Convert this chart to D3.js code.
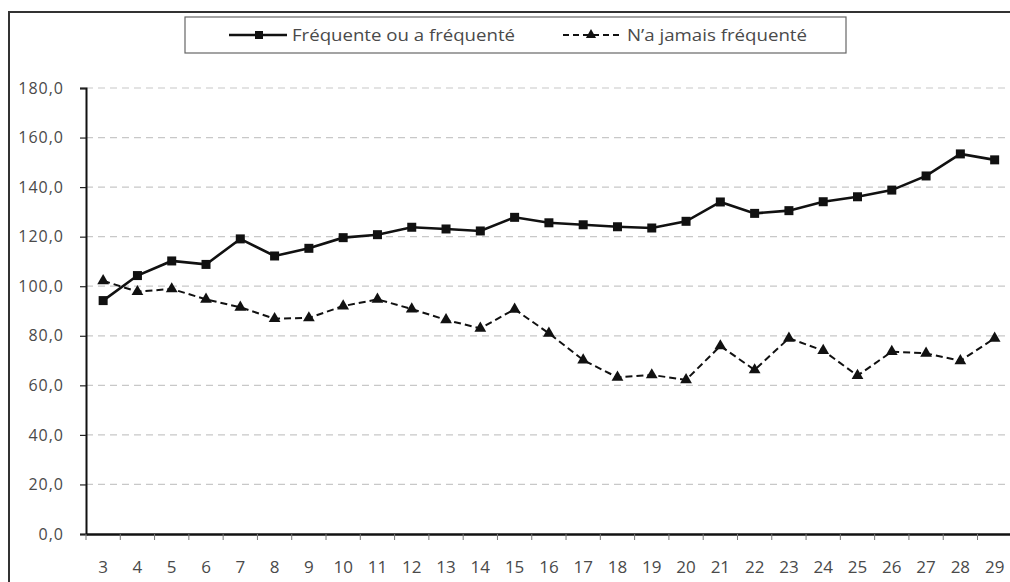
<!DOCTYPE html>
<html lang="fr">
<head>
<meta charset="utf-8">
<title>Fréquente ou a fréquenté</title>
<script src="https://d3js.org/d3.v7.min.js"></script>
<style>
  body { margin: 0; background: #fff; }
  text { font-family: "Open Sans", "DejaVu Sans", sans-serif; fill: #4a4a4a; }
</style>
</head>
<body>
<svg id="chart" width="1010" height="582"></svg>
<script>
// categories (x axis)
var ages = ["3","4","5","6","7","8","9","10","11","12","13","14","15","16",
            "17","18","19","20","21","22","23","24","25","26","27","28","29"];
// series values
var frequente = [94.2, 104.3, 110.2, 108.8, 119.1, 112.2, 115.3, 119.6, 120.8, 123.8,
                 123.1, 122.3, 127.8, 125.6, 124.8, 124.0, 123.5, 126.2, 134.0, 129.4,
                 130.5, 134.1, 136.1, 138.8, 144.5, 153.4, 151.0];
var jamais = [102.2, 97.8, 98.9, 94.7, 91.5, 86.9, 87.2, 92.0, 94.7, 90.8,
              86.4, 83.0, 90.7, 81.0, 70.2, 63.2, 64.2, 62.2, 75.9, 66.2,
              79.0, 74.0, 63.9, 73.6, 72.9, 69.9, 79.0];
// y ticks
var yTicks = [0, 20, 40, 60, 80, 100, 120, 140, 160, 180];
var seriesNames = ["Fréquente ou a fréquenté", "N\u2019a jamais fréquenté"];

var svg = d3.select("#chart");

// outer frame (runs off the right and bottom edges)
svg.append("rect")
  .attr("x", 9).attr("y", 12)
  .attr("width", 1020).attr("height", 600)
  .attr("fill", "none").attr("stroke", "#333").attr("stroke-width", 2);

var x = d3.scaleBand().domain(ages).range([86, 1011.8]);
var y = d3.scaleLinear().domain([0, 180]).range([534, 88]);

// gridlines
svg.append("g")
  .selectAll("line")
  .data(yTicks.filter(function(d){ return d > 0; }))
  .enter().append("line")
    .attr("x1", 86).attr("x2", 1010)
    .attr("y1", function(d){ return y(d); })
    .attr("y2", function(d){ return y(d); })
    .attr("stroke", "#c8c8c8")
    .attr("stroke-width", 1.2)
    .attr("stroke-dasharray", "7,5");

// y axis
var yAxis = svg.append("g")
  .attr("transform", "translate(86,0)")
  .call(d3.axisLeft(y).tickValues(yTicks).tickSize(6).tickPadding(16)
    .tickFormat(function(d){ return d3.format(".1f")(d).replace(".", ","); }));
yAxis.select(".domain").attr("stroke", "#111").attr("stroke-width", 2);
yAxis.selectAll(".tick line").attr("stroke", "#222").attr("stroke-width", 1.2);
yAxis.selectAll(".tick text")
  .style("font-size", "16px").attr("fill", "#555").attr("letter-spacing", "1");

// x axis
var xAxis = svg.append("g")
  .attr("transform", "translate(0,534)")
  .call(d3.axisBottom(x).tickSize(0).tickPadding(27));
xAxis.select(".domain").attr("stroke", "#111").attr("stroke-width", 2.5);
xAxis.selectAll(".tick text")
  .style("font-size", "17px").attr("fill", "#555");
// category separators
xAxis.append("g")
  .selectAll("line")
  .data(ages)
  .enter().append("line")
    .attr("x1", function(d){ return x(d); })
    .attr("x2", function(d){ return x(d); })
    .attr("y1", 0).attr("y2", 6)
    .attr("stroke", "#777").attr("stroke-width", 1);

var cx = function(d, i){ return x(ages[i]) + x.bandwidth() / 2; };

// series: N'a jamais fréquenté (dashed, triangles)
svg.append("path")
  .datum(jamais)
  .attr("fill", "none").attr("stroke", "#111")
  .attr("stroke-width", 2).attr("stroke-dasharray", "7,4")
  .attr("d", d3.line().x(cx).y(function(d){ return y(d); }));
svg.append("g").selectAll("path")
  .data(jamais)
  .enter().append("path")
    .attr("transform", function(d, i){ return "translate(" + cx(d, i) + "," + y(d) + ")"; })
    .attr("d", d3.symbol().type(d3.symbolTriangle).size(60))
    .attr("fill", "#111");

// series: Fréquente ou a fréquenté (solid, squares)
svg.append("path")
  .datum(frequente)
  .attr("fill", "none").attr("stroke", "#111").attr("stroke-width", 2.6)
  .attr("d", d3.line().x(cx).y(function(d){ return y(d); }));
svg.append("g").selectAll("rect")
  .data(frequente)
  .enter().append("rect")
    .attr("x", function(d, i){ return cx(d, i) - 4.5; })
    .attr("y", function(d){ return y(d) - 4.5; })
    .attr("width", 9).attr("height", 9)
    .attr("fill", "#111");

// legend
var legend = svg.append("g");
legend.append("rect")
  .attr("x", 185).attr("y", 17).attr("width", 661).attr("height", 36)
  .attr("fill", "#fff").attr("stroke", "#666").attr("stroke-width", 1.2);

legend.append("line")
  .attr("x1", 229).attr("x2", 287).attr("y1", 35).attr("y2", 35)
  .attr("stroke", "#111").attr("stroke-width", 2.6);
legend.append("rect")
  .attr("x", 255).attr("y", 31).attr("width", 8).attr("height", 8).attr("fill", "#111");
legend.append("text")
  .attr("x", 292).attr("y", 40.5)
  .attr("textLength", 223).attr("lengthAdjust", "spacingAndGlyphs")
  .attr("fill", "#555")
  .style("font-size", "16px")
  .text(seriesNames[0]);

legend.append("line")
  .attr("x1", 563).attr("x2", 623).attr("y1", 35).attr("y2", 35)
  .attr("stroke", "#111").attr("stroke-width", 2).attr("stroke-dasharray", "6,4");
legend.append("path")
  .attr("transform", "translate(591,35)")
  .attr("d", d3.symbol().type(d3.symbolTriangle).size(45))
  .attr("fill", "#111");
legend.append("text")
  .attr("x", 627).attr("y", 40.5)
  .attr("textLength", 180).attr("lengthAdjust", "spacingAndGlyphs")
  .attr("fill", "#555")
  .style("font-size", "16px")
  .text(seriesNames[1]);
</script>
</body>
</html>
